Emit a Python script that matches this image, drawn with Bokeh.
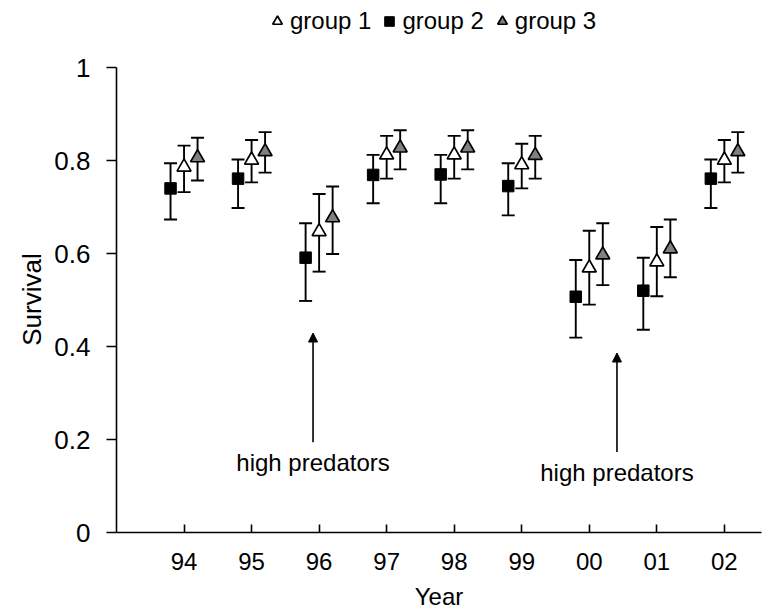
from bokeh.plotting import figure
from bokeh.models import (ColumnDataSource, Whisker, TeeHead, Arrow, NormalHead,
                          FixedTicker, Legend, LegendItem, Label, Title)
from bokeh.embed import file_html
from bokeh.resources import INLINE

# ---- data ----
year_labels = ["94", "95", "96", "97", "98", "99", "00", "01", "02"]
year_pos = [1, 2, 3, 4, 5, 6, 7, 8, 9]

g2_mean = [0.740, 0.761, 0.591, 0.769, 0.770, 0.745, 0.507, 0.520, 0.761]
g2_up   = [0.794, 0.802, 0.665, 0.812, 0.812, 0.794, 0.586, 0.591, 0.802]
g2_lo   = [0.673, 0.698, 0.498, 0.708, 0.708, 0.682, 0.419, 0.436, 0.698]

g1_mean = [0.786, 0.801, 0.647, 0.812, 0.812, 0.791, 0.569, 0.582, 0.801]
g1_up   = [0.832, 0.844, 0.728, 0.853, 0.853, 0.836, 0.649, 0.657, 0.844]
g1_lo   = [0.732, 0.753, 0.561, 0.761, 0.761, 0.740, 0.490, 0.508, 0.753]

g3_mean = [0.806, 0.819, 0.677, 0.827, 0.827, 0.811, 0.597, 0.610, 0.819]
g3_up   = [0.849, 0.861, 0.744, 0.865, 0.865, 0.853, 0.665, 0.673, 0.861]
g3_lo   = [0.757, 0.774, 0.599, 0.781, 0.781, 0.761, 0.532, 0.549, 0.774]

y_ticks = [0, 0.2, 0.4, 0.6, 0.8, 1]
y_tick_labels = ["0", "0.2", "0.4", "0.6", "0.8", "1"]

note_text = ["high predators", "high predators"]
note_x = [2.91, 7.41]
note_text_y = [0.151, 0.130]
arrow_y0 = [0.194, 0.173]
arrow_y1 = [0.429, 0.386]

offsets = {"g2": -0.2, "g1": 0.0, "g3": 0.2}
FONT = "Liberation Sans"
FS = "24px"
FS_Y = "26px"

# frame reaches the top of the page so the legend can sit above the value 1
p = figure(frame_width=645, frame_height=532, x_range=(0, 9.55), y_range=(0, 532 / 465),
           output_backend="svg", toolbar_location=None,
           min_border_left=116, min_border_right=10, min_border_bottom=74, min_border_top=0)
p.outline_line_color = None
p.xgrid.visible = False
p.ygrid.visible = False
p.background_fill_color = "white"

def src(mean, up, lo, off):
    return ColumnDataSource(dict(x=[v + off for v in year_pos], y=mean, up=up, lo=lo))

s2 = src(g2_mean, g2_up, g2_lo, offsets["g2"])
s1 = src(g1_mean, g1_up, g1_lo, offsets["g1"])
s3 = src(g3_mean, g3_up, g3_lo, offsets["g3"])

LW = 1.9
for s in (s2, s1, s3):
    w = Whisker(source=s, base="x", upper="up", lower="lo", dimension="height",
                line_color="black", line_width=LW,
                upper_head=TeeHead(size=13, line_color="black", line_width=LW),
                lower_head=TeeHead(size=13, line_color="black", line_width=LW))
    p.add_layout(w)

r2 = p.scatter("x", "y", source=s2, marker="square", size=11.5, fill_color="black",
               line_color="black", line_width=1)
r1 = p.scatter("x", "y", source=s1, marker="triangle", size=14, fill_color="white",
               line_color="black", line_width=1.7)
r3 = p.scatter("x", "y", source=s3, marker="triangle", size=14, fill_color="#808080",
               line_color="black", line_width=1.7)

for i in range(len(note_x)):
    p.add_layout(Arrow(x_start=note_x[i], y_start=arrow_y0[i], x_end=note_x[i], y_end=arrow_y1[i],
                       line_color="black", line_width=1.6,
                       end=NormalHead(size=9, fill_color="black", line_color="black", line_width=1)))
    p.add_layout(Label(x=note_x[i], y=note_text_y[i], text=note_text[i], text_align="center",
                       text_baseline="middle", text_font=FONT, text_font_size=FS,
                       text_color="black"))

# axes
p.xaxis.ticker = FixedTicker(ticks=year_pos)
p.xaxis.major_label_overrides = {k: v for k, v in zip(year_pos, year_labels)}
p.xaxis.major_tick_in = 8
p.xaxis.major_tick_out = 0
p.xaxis.minor_tick_line_color = None
p.xaxis.axis_label = "Year"

p.yaxis.ticker = FixedTicker(ticks=y_ticks)
p.yaxis.major_label_overrides = {k: v for k, v in zip(y_ticks, y_tick_labels)}
p.yaxis.major_tick_in = 0
p.yaxis.major_tick_out = 10
p.yaxis.minor_tick_line_color = None
p.yaxis.bounds = (0, 1)

for ax in (p.xaxis[0], p.yaxis[0]):
    ax.axis_line_color = "black"
    ax.axis_line_width = 1.6
    ax.major_tick_line_color = "black"
    ax.major_tick_line_width = 1.6
    ax.major_label_text_font = FONT
    ax.major_label_text_color = "black"
    ax.axis_label_text_font = FONT
    ax.axis_label_text_font_size = FS
    ax.axis_label_text_font_style = "normal"
    ax.axis_label_text_color = "black"

p.xaxis.major_label_text_font_size = FS
p.yaxis.major_label_text_font_size = FS_Y
p.xaxis.major_label_standoff = 20
p.xaxis.axis_label_standoff = 10
p.yaxis.major_label_standoff = 16

# y-axis title, centred on the 0..1 span of the axis (not on the taller frame)
surv_len = 3.556 * 26
p.add_layout(Title(text="Survival", align="left", offset=532 - (299 + surv_len / 2),
                   text_font=FONT, text_font_size=FS_Y, text_font_style="normal",
                   text_color="black", vertical_align="middle", standoff=8), "left")

legend = Legend(items=[LegendItem(label="group 1", renderers=[r1]),
                       LegendItem(label="group 2", renderers=[r2]),
                       LegendItem(label="group 3", renderers=[r3])],
                orientation="horizontal", location=(149, 497),
                label_text_font=FONT, label_text_font_size=FS, label_text_color="black",
                glyph_width=24, glyph_height=24, label_standoff=1, spacing=6,
                padding=0, margin=0, border_line_color=None,
                background_fill_alpha=0)
p.add_layout(legend, "center")

open("out.html", "w").write(file_html(p, INLINE))
